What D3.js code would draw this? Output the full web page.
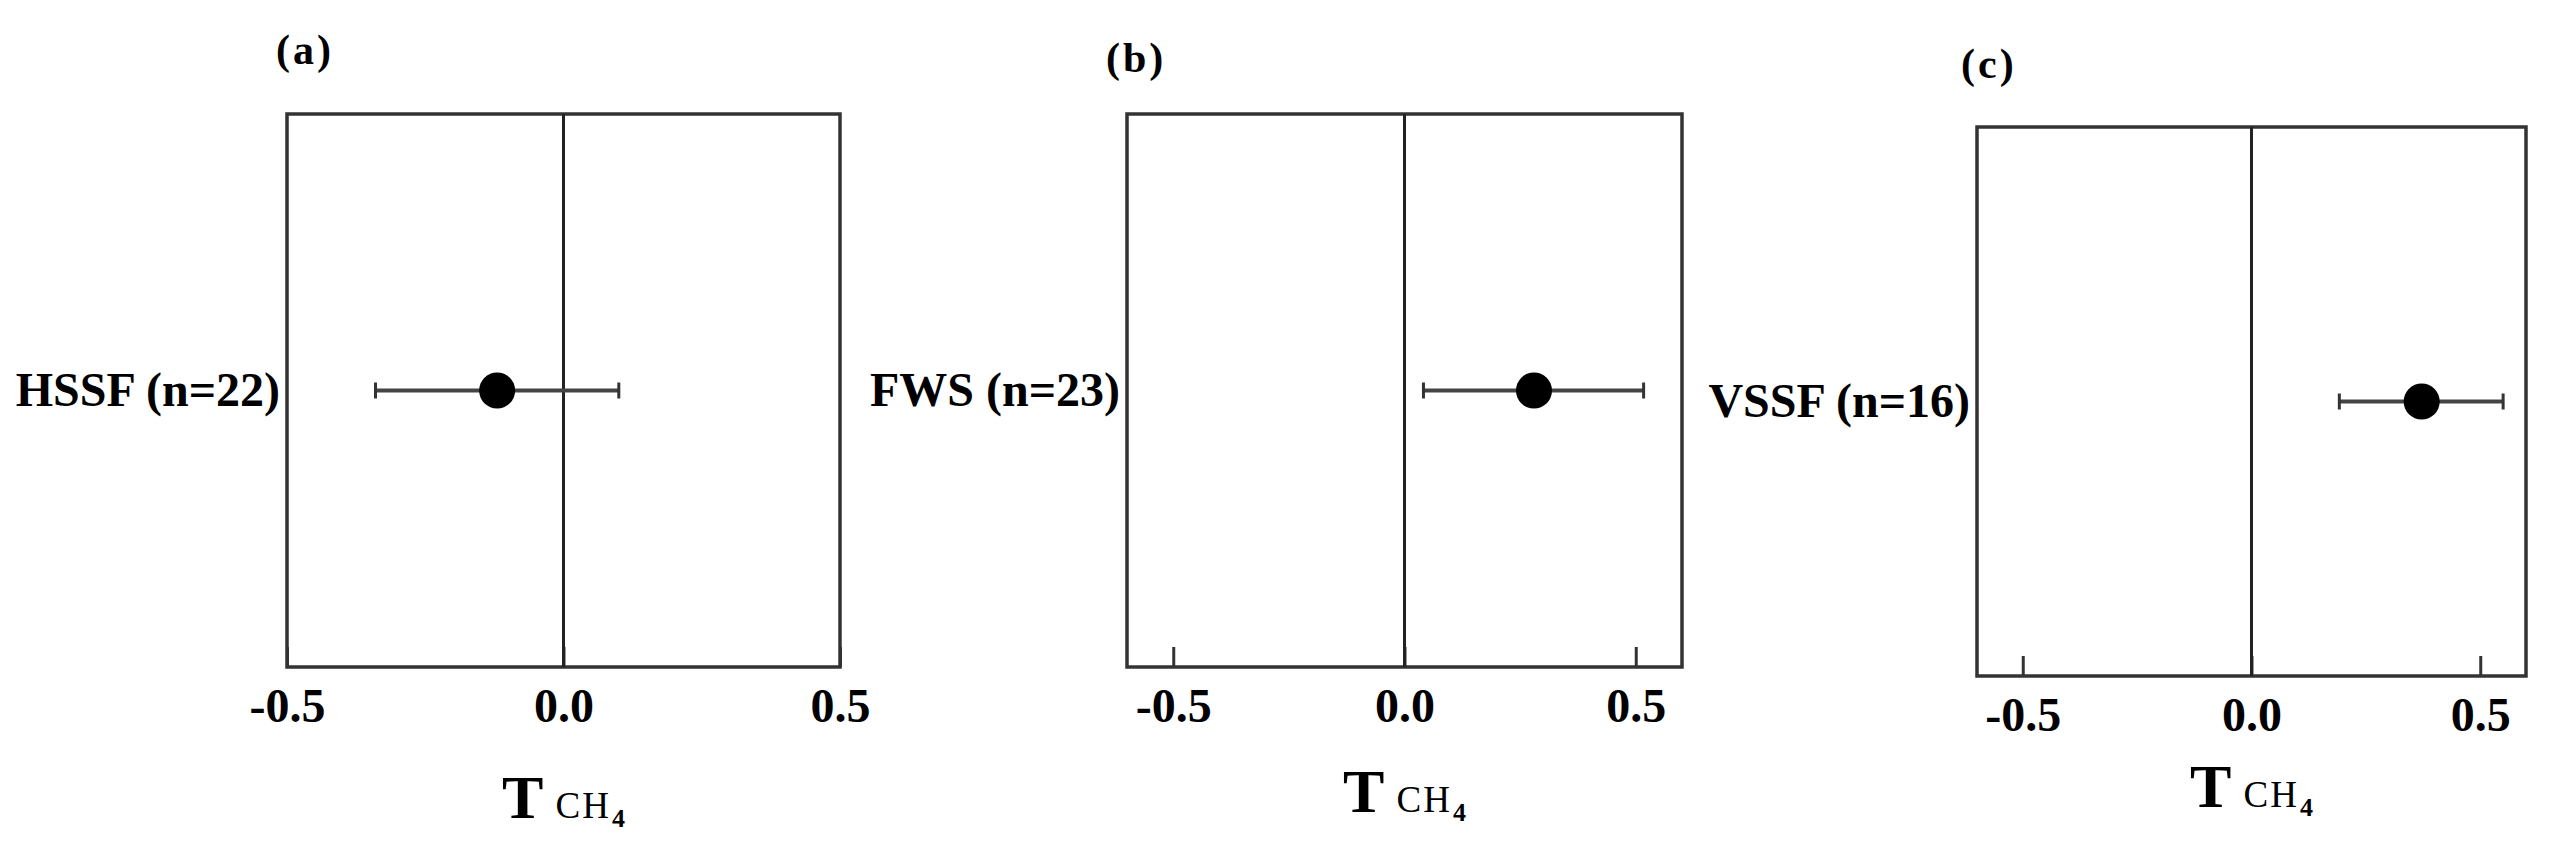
<!DOCTYPE html>
<html>
<head>
<meta charset="utf-8">
<script src="https://cdn.jsdelivr.net/npm/d3@7"></script>
<style>
  body { margin: 0; background: #fff; }
  svg { display: block; }
  text { font-family: "Liberation Serif", "Times New Roman", serif; fill: #000; }
</style>
</head>
<body>
<script>
// data
const panelTags = ["(a)", "(b)", "(c)"];
const categories = ["HSSF (n=22)", "FWS (n=23)", "VSSF (n=16)"];
const means = [-0.12, 0.28, 0.372];
const lowers = [-0.34, 0.041, 0.192];
const uppers = [0.10, 0.517, 0.55];
const xDomains = [[-0.5, 0.5], [-0.6, 0.6], [-0.6, 0.6]];
const tickValues = [-0.5, 0.0, 0.5];

// layout of each panel (pixels)
const boxes = [
  { left: 287, right: 840, top: 114, bottom: 667, titleX: 276, titleY: 64, labelY: 818 },
  { left: 1127, right: 1682, top: 114, bottom: 667, titleX: 1106, titleY: 72, labelY: 812 },
  { left: 1977, right: 2526, top: 127, bottom: 676, titleX: 1961, titleY: 78, labelY: 807 }
];

// plain hyphen for negatives, like the original
const fmt = v => d3.format(".1f")(v).replace("\u2212", "-");

let svg = d3.select("body")
  .append("svg")
  .attr("width", 2559)
  .attr("height", 862);

boxes.forEach((b, i) => {
  let g = svg.append("g");

  let x = d3.scaleLinear()
    .domain(xDomains[i])
    .range([b.left, b.right]);

  let y = d3.scalePoint()
    .domain([categories[i]])
    .range([b.top, b.bottom])
    .padding(0.5);

  // bottom axis with inner ticks
  let axis = d3.axisBottom(x)
    .tickValues(tickValues)
    .tickFormat(fmt)
    .tickSizeInner(-20)
    .tickSizeOuter(0)
    .tickPadding(21);

  let ax = g.append("g")
    .attr("transform", `translate(0, ${b.bottom})`)
    .call(axis);
  ax.select(".domain").remove();
  ax.selectAll(".tick line").attr("stroke", "#333").attr("stroke-width", 3);
  ax.selectAll(".tick text")
    .style("font-size", "48px")
    .style("font-weight", "bold")
    .attr("fill", "#000");

  // frame
  g.append("rect")
    .attr("x", b.left)
    .attr("y", b.top)
    .attr("width", b.right - b.left)
    .attr("height", b.bottom - b.top)
    .attr("fill", "none")
    .attr("stroke", "#333")
    .attr("stroke-width", 3.5);

  // zero line
  g.append("line")
    .attr("x1", x(0)).attr("x2", x(0))
    .attr("y1", b.top).attr("y2", b.bottom)
    .attr("stroke", "#222")
    .attr("stroke-width", 3);

  // category label
  g.append("text")
    .attr("x", b.left - 7)
    .attr("y", y(categories[i]))
    .attr("dy", "0.33em")
    .attr("text-anchor", "end")
    .style("font-size", "48px")
    .style("font-weight", "bold")
    .text(categories[i]);

  // error bar
  let cy = y(categories[i]);
  g.append("line")
    .attr("x1", x(lowers[i])).attr("x2", x(uppers[i]))
    .attr("y1", cy).attr("y2", cy)
    .attr("stroke", "#444")
    .attr("stroke-width", 4);
  [lowers[i], uppers[i]].forEach(v => {
    g.append("line")
      .attr("x1", x(v)).attr("x2", x(v))
      .attr("y1", cy - 8).attr("y2", cy + 8)
      .attr("stroke", "#333")
      .attr("stroke-width", 3);
  });
  g.append("circle")
    .attr("cx", x(means[i]))
    .attr("cy", cy)
    .attr("r", 18)
    .attr("fill", "#000");

  // panel tag
  g.append("text")
    .attr("x", b.titleX)
    .attr("y", b.titleY)
    .style("font-size", "42px")
    .style("font-weight", "bold")
    .style("letter-spacing", "3px")
    .text(panelTags[i]);

  // axis title  T CH4
  let lab = g.append("text")
    .attr("x", (b.left + b.right) / 2)
    .attr("y", b.labelY)
    .attr("text-anchor", "middle");
  lab.append("tspan")
    .style("font-size", "62px")
    .style("font-weight", "bold")
    .text("T");
  lab.append("tspan")
    .attr("dx", 12)
    .style("font-size", "37px")
    .style("letter-spacing", "2px")
    .text("CH");
  lab.append("tspan")
    .attr("dy", 9)
    .attr("dx", 1)
    .style("font-size", "26px")
    .style("font-weight", "bold")
    .text("4");
});
</script>
</body>
</html>
